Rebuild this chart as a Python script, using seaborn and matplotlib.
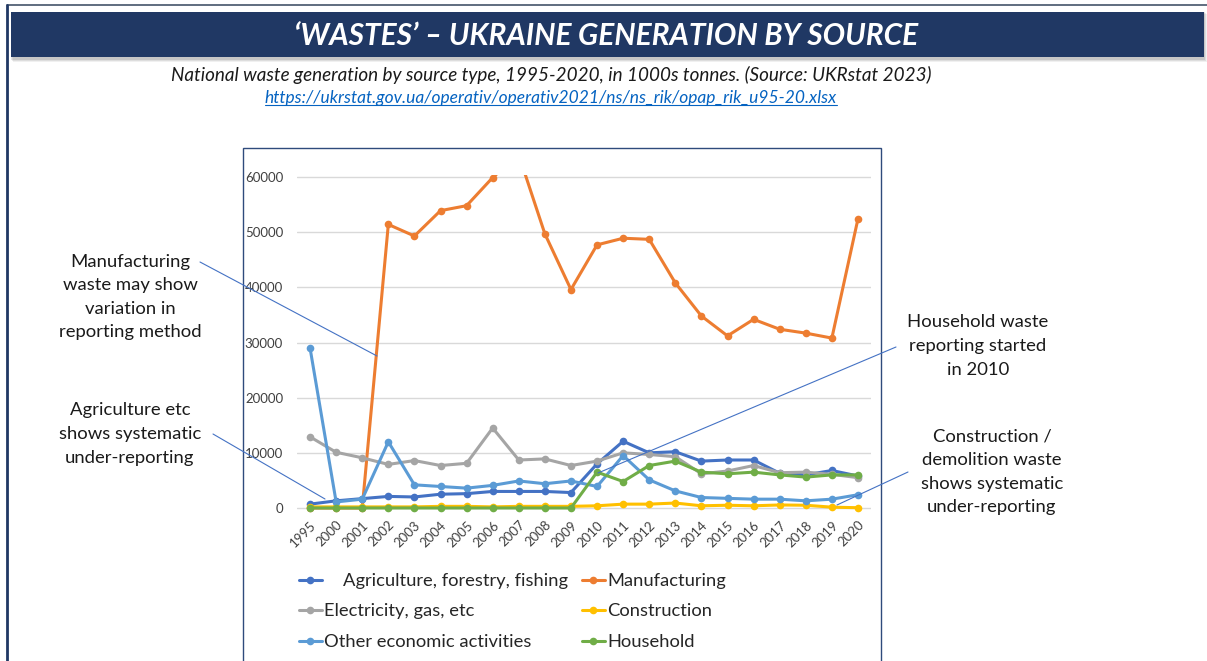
import numpy as np
import pandas as pd
import seaborn as sns
import matplotlib.pyplot as plt
from matplotlib.lines import Line2D
from matplotlib.patches import Rectangle

W, H = 1207, 661

years = ['1995', '2000', '2001', '2002', '2003', '2004', '2005', '2006', '2007', '2008', '2009',
         '2010', '2011', '2012', '2013', '2014', '2015', '2016', '2017', '2018', '2019', '2020']

agriculture = [700, 1300, 1700, 2100, 2000, 2500, 2600, 3000, 3000, 3000, 2800,
               8000, 12100, 10000, 10200, 8500, 8700, 8700, 6300, 6000, 6800, 5800]
manufacturing = [0, 0, 0, 51400, 49300, 53900, 54800, 59900, 64000, 49700, 39600,
                 47700, 48900, 48700, 40800, 34800, 31200, 34200, 32400, 31700, 30800, 52400]
electricity = [12900, 10100, 9100, 7900, 8600, 7700, 8100, 14500, 8700, 8900, 7700,
               8500, 10000, 9700, 9300, 6200, 6700, 7700, 6400, 6500, 6100, 5500]
construction = [200, 200, 200, 200, 200, 300, 300, 200, 300, 300, 300,
                400, 700, 700, 900, 400, 500, 400, 550, 500, 150, 50]
other = [29000, 1100, 1600, 12000, 4200, 3900, 3600, 4100, 4900, 4400, 4900,
         3900, 9500, 5100, 3100, 1900, 1750, 1600, 1600, 1300, 1600, 2400]
household = [0, 0, 0, 0, 0, 0, 0, 0, 0, 0, 0,
             6500, 4800, 7700, 8500, 6500, 6200, 6500, 6000, 5600, 6000, 6000]

series_names = ['Agriculture, forestry, fishing', 'Manufacturing', 'Electricity, gas, etc',
                'Construction', 'Other economic activities', 'Household']
series_values = [agriculture, manufacturing, electricity, construction, other, household]
colors = ['#4472C4', '#ED7D31', '#A5A5A5', '#FFC000', '#5B9BD5', '#70AD47']

rows = []
for name, vals in zip(series_names, series_values):
    for i, v in enumerate(vals):
        rows.append({'idx': i, 'year': years[i], 'series': name, 'value': v})
df = pd.DataFrame(rows)

sns.set_theme(style="white")
plt.rcParams['font.family'] = ['Lato', 'DejaVu Sans']


def fx(x):
    return x / W


def fy(y):
    return 1 - y / H


fig = plt.figure(figsize=(W / 100, H / 100), dpi=100)
fig.patch.set_facecolor('white')

# outer slide frame
fig.add_artist(Line2D([fx(7), fx(1207)], [fy(5), fy(5)], color='#44546A', lw=1.2))
fig.add_artist(Line2D([fx(7), fx(7)], [fy(5), fy(661)], color='#203864', lw=2))

# title banner with soft shadow
for k, a in enumerate([0.10, 0.08, 0.06]):
    fig.add_artist(Rectangle((fx(11 + k), fy(60 + k)), fx(1194), 48 / H,
                             color='#000000', alpha=a, lw=0))
fig.add_artist(Rectangle((fx(11), fy(57)), fx(1193), 45 / H, color='#203864', lw=0))
fig.text(fx(606), fy(36), '\u2018WASTES\u2019 \u2013 UKRAINE GENERATION BY SOURCE', color='white',
         fontsize=21.5, fontweight='bold', fontstyle='italic', ha='center', va='center')

fig.text(fx(551), fy(75), 'National waste generation by source type, 1995-2020, in 1000s tonnes. (Source: UKRstat 2023)',
         fontsize=13.6, fontstyle='italic', color='#1a1a1a', ha='center', va='center')
link = fig.text(fx(551), fy(98), 'https://ukrstat.gov.ua/operativ/operativ2021/ns/ns_rik/opap_rik_u95-20.xlsx',
                fontsize=12.5, fontstyle='italic', color='#0563C1', ha='center', va='center')

# chart box
fig.add_artist(Rectangle((fx(243), fy(670)), fx(638), (670 - 148) / H, fill=False,
                         edgecolor='#2F4B7C', lw=1))

# plot area: 0 -> y 508, 60000 -> y 177
ppu = (508 - 177) / 60000
ymin, ymax = -1200, 60400
bot = 508 + (0 - ymin) * ppu
top = 177 - (ymax - 60000) * ppu
ax = fig.add_axes([fx(297), fy(bot), fx(574), (bot - top) / H])

sns.lineplot(data=df, x='idx', y='value', hue='series', hue_order=series_names,
             palette=colors, marker='o', markersize=5.5, markeredgewidth=0,
             linewidth=2.2, legend=False, ax=ax)

ax.set_xlim(-0.5, len(years) - 0.5)
ax.set_ylim(ymin, ymax)
ax.set_yticks(np.arange(0, 60001, 10000))
ax.set_yticklabels([str(v) for v in range(0, 60001, 10000)], fontsize=9.5, color='#404040')
ax.set_xticks(range(len(years)))
ax.set_xticklabels(years, rotation=45, ha='right', rotation_mode='anchor', fontsize=9.5, color='#404040')
ax.tick_params(axis='both', length=0)
ax.tick_params(axis='y', pad=10)
ax.tick_params(axis='x', pad=3)
ax.yaxis.grid(True, color='#D9D9D9', lw=1)
ax.set_axisbelow(True)
ax.set_xlabel('')
ax.set_ylabel('')
for s in ax.spines.values():
    s.set_visible(False)
ax.patch.set_alpha(0)

# legend, two columns filled row-wise like the original
leg_fs = 13.2
handles = [Line2D([], [], color=c, lw=2.2, marker='o', ms=5.5, mew=0) for c in colors]
col1 = [0, 2, 4]
col2 = [1, 3, 5]
labels1 = ['    ' + series_names[0], series_names[2], series_names[4]]
labels2 = [series_names[1], series_names[3], series_names[5]]
for idxs, labs, x0 in [(col1, labels1, 299), (col2, labels2, 582)]:
    fig.legend([handles[i] for i in idxs], labs, loc='upper left',
               bbox_to_anchor=(fx(x0), fy(573)), frameon=False, fontsize=leg_fs,
               handlelength=1.25, handletextpad=0.12, borderpad=0, borderaxespad=0,
               labelspacing=0.79, labelcolor='#262626')

# annotations
ann_kw = dict(fontsize=13.3, color='#1a1a1a', ha='center', va='center', linespacing=1.58)
fig.text(fx(130), fy(297), 'Manufacturing\nwaste may show\nvariation in\nreporting method', **ann_kw)
fig.text(fx(130), fy(434), 'Agriculture etc\nshows systematic\nunder-reporting', **ann_kw)
fig.text(fx(978), fy(346), 'Household waste\nreporting started\nin 2010', **ann_kw)
fig.text(fx(992), fy(472), 'Construction /\ndemolition waste\nshows systematic\nunder-reporting', **ann_kw)

for (x1, y1), (x2, y2) in [((200, 262), (377, 356)), ((213, 434), (325, 499)),
                           ((896, 347), (598, 473)), ((908, 472), (837, 505))]:
    fig.add_artist(Line2D([fx(x1), fx(x2)], [fy(y1), fy(y2)], color='#4472C4', lw=0.8))

# underline the link
fig.canvas.draw()
bb = link.get_window_extent()
fig.add_artist(Line2D([bb.x0 / W, bb.x1 / W], [(bb.y0 + 1) / H, (bb.y0 + 1) / H],
                      color='#0563C1', lw=0.8))

fig.savefig('out.png', dpi=100)
